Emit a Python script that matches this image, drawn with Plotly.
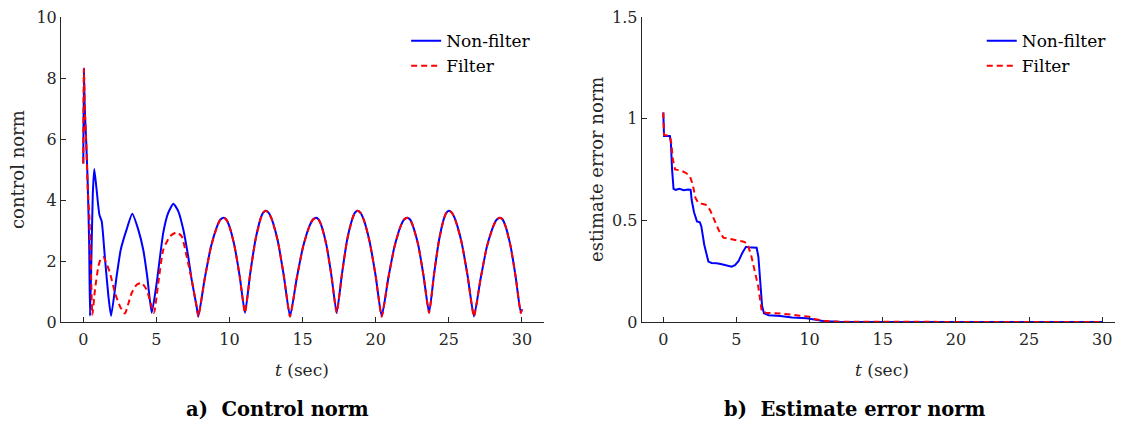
import plotly.graph_objects as go

# ---------------- data: control norm (left) ----------------
t_u_nf = [0, 0.04, 0.1, 0.2, 0.3, 0.4, 0.46, 0.55, 0.65, 0.75, 0.91, 1.1, 1.26, 1.49, 1.72, 1.9,
          2.28, 2.56, 2.96, 3.35, 3.76, 4.1, 4.37, 4.68, 5.02, 5.47, 5.8, 6.16, 6.5, 6.84, 7.19, 7.41, 7.75, 7.87,
          8.30, 8.74, 9.17, 9.38, 9.6, 9.78, 9.97, 10.33, 10.70, 11.06,
          11.41, 11.77, 12.12, 12.29, 12.47, 12.68, 12.89, 13.31, 13.72, 14.14,
          14.59, 15.04, 15.48, 15.71, 15.93, 16.10, 16.28, 16.63, 16.98, 17.33,
          17.69, 18.04, 18.40, 18.57, 18.75, 18.96, 19.17, 19.58, 20.0, 20.41,
          20.85, 21.29, 21.72, 21.94, 22.16, 22.35, 22.53, 22.91, 23.28, 23.65,
          23.99, 24.33, 24.66, 24.83, 25.0, 25.22, 25.43, 25.86, 26.29, 26.72,
          27.17, 27.61, 28.06, 28.28, 28.5, 28.68, 28.86, 29.21, 29.57, 29.92, 30.0]
u_nf = [5.2, 8.3, 7.0, 5.9, 4.6, 2.6, 0.2, 2.0, 4.2, 5.02, 4.34, 3.52, 3.3, 2.04, 0.84, 0.2,
        1.5, 2.37, 3.03, 3.55, 3.03, 2.37, 1.5, 0.3, 1.28, 2.93, 3.57, 3.88, 3.63, 3.03, 2.1, 1.39, 0.51, 0.18,
        1.41, 2.48, 3.16, 3.36, 3.42, 3.36, 3.17, 2.52, 1.49, 0.3,
        1.57, 2.68, 3.38, 3.58, 3.65, 3.58, 3.37, 2.64, 1.50, 0.18,
        1.41, 2.48, 3.16, 3.36, 3.42, 3.36, 3.17, 2.52, 1.49, 0.3,
        1.57, 2.68, 3.38, 3.58, 3.65, 3.58, 3.37, 2.64, 1.50, 0.18,
        1.41, 2.48, 3.16, 3.36, 3.42, 3.36, 3.17, 2.52, 1.49, 0.3,
        1.57, 2.68, 3.38, 3.58, 3.65, 3.58, 3.37, 2.64, 1.50, 0.18,
        1.41, 2.48, 3.16, 3.36, 3.42, 3.36, 3.17, 2.52, 1.49, 0.3, 0.42]

t_u_f = [0, 0.04, 0.1, 0.2, 0.3, 0.42, 0.52, 0.62, 0.8, 1.03, 1.2, 1.37, 1.6, 1.83, 2.17, 2.51, 2.85,
         3.08, 3.31, 3.65, 3.99, 4.33, 4.68, 4.84, 5.13, 5.47, 5.93, 6.39, 6.73, 7.07, 7.41, 7.75, 7.87,
         8.30, 8.74, 9.17, 9.38, 9.6, 9.78, 9.97, 10.33, 10.70, 11.06,
         11.41, 11.77, 12.12, 12.29, 12.47, 12.68, 12.89, 13.31, 13.72, 14.14,
         14.59, 15.04, 15.48, 15.71, 15.93, 16.10, 16.28, 16.63, 16.98, 17.33,
         17.69, 18.04, 18.40, 18.57, 18.75, 18.96, 19.17, 19.58, 20.0, 20.41,
         20.85, 21.29, 21.72, 21.94, 22.16, 22.35, 22.53, 22.91, 23.28, 23.65,
         23.99, 24.33, 24.66, 24.83, 25.0, 25.22, 25.43, 25.86, 26.29, 26.72,
         27.17, 27.61, 28.06, 28.28, 28.5, 28.68, 28.86, 29.21, 29.57, 29.92, 30.0]
u_f = [5.2, 8.3, 7.0, 5.9, 4.4, 3.4, 1.8, 0.24, 1.06, 1.82, 2.08, 2.13, 1.9, 1.6, 0.95, 0.51, 0.28,
       0.6, 0.95, 1.22, 1.28, 1.06, 0.5, 0.3, 1.28, 2.37, 2.81, 2.94, 2.81, 2.15, 1.39, 0.51, 0.18,
       1.41, 2.48, 3.16, 3.36, 3.42, 3.36, 3.17, 2.52, 1.49, 0.3,
       1.57, 2.68, 3.38, 3.58, 3.65, 3.58, 3.37, 2.64, 1.50, 0.18,
       1.41, 2.48, 3.16, 3.36, 3.42, 3.36, 3.17, 2.52, 1.49, 0.3,
       1.57, 2.68, 3.38, 3.58, 3.65, 3.58, 3.37, 2.64, 1.50, 0.18,
       1.41, 2.48, 3.16, 3.36, 3.42, 3.36, 3.17, 2.52, 1.49, 0.3,
       1.57, 2.68, 3.38, 3.58, 3.65, 3.58, 3.37, 2.64, 1.50, 0.18,
       1.41, 2.48, 3.16, 3.36, 3.42, 3.36, 3.17, 2.52, 1.49, 0.3, 0.42]

# ---------------- data: estimate error norm (right) ----------------
t_e_nf = [0, 0.05, 0.45, 0.52, 0.6, 0.7, 0.85, 1.1, 1.4, 1.7, 1.87, 1.94, 2.1, 2.3, 2.5, 2.6, 2.8,
          3.08, 3.3, 3.65, 4.0, 4.4, 4.67, 4.9, 5.15, 5.4, 5.65, 5.8, 6.1, 6.38, 6.5, 6.62, 6.75,
          6.88, 7.2, 8.0, 8.8, 9.8, 10.3, 11.0, 12.0, 30.0]
e_nf = [1.03, 0.915, 0.915, 0.88, 0.75, 0.655, 0.65, 0.655, 0.648, 0.652, 0.65, 0.6, 0.54, 0.495, 0.49, 0.47, 0.38,
        0.297, 0.29, 0.289, 0.284, 0.276, 0.272, 0.28, 0.3, 0.34, 0.37, 0.368, 0.368, 0.365, 0.32, 0.2, 0.08,
        0.043, 0.033, 0.03, 0.022, 0.018, 0.012, 0.004, 0.001, 0.0]

t_e_f = [0, 0.05, 0.45, 0.55, 0.65, 0.8, 1.2, 1.5, 1.8, 2.0, 2.2, 2.4, 2.7, 2.97, 3.2, 3.5, 3.8, 4.1,
         4.5, 5.13, 5.5, 5.74, 6.0, 6.25, 6.49, 6.73, 7.0, 8.0, 8.6, 9.5, 10.0, 10.4, 11.0, 12.0, 30.0]
e_f = [1.03, 0.92, 0.915, 0.88, 0.8, 0.75, 0.745, 0.735, 0.72, 0.68, 0.61, 0.585, 0.58, 0.575, 0.55, 0.5, 0.45, 0.415,
       0.41, 0.403, 0.395, 0.386, 0.33, 0.25, 0.174, 0.052, 0.046, 0.042, 0.036, 0.03, 0.026, 0.013, 0.006, 0.001, 0.0]

x_ticks = [0, 5, 10, 15, 20, 25, 30]
y1_ticks = [0, 2, 4, 6, 8, 10]
y2_ticks = [0, 0.5, 1, 1.5]
y2_ticklabels = ["0", "0.5", "1", "1.5"]

FONT = "DejaVu Serif"
AX = "#262626"
BLUE = "#0000FF"
RED = "#FF0000"

fig = go.Figure()
fig.add_trace(go.Scatter(x=t_u_nf, y=u_nf, mode="lines", name="Non-filter",
                         line=dict(color=BLUE, width=2, shape="spline", smoothing=0.5),
                         xaxis="x", yaxis="y", legend="legend"))
fig.add_trace(go.Scatter(x=t_u_f, y=u_f, mode="lines", name="Filter",
                         line=dict(color=RED, width=2, dash="6px,4px", shape="spline", smoothing=0.5),
                         xaxis="x", yaxis="y", legend="legend"))
fig.add_trace(go.Scatter(x=t_e_nf, y=e_nf, mode="lines", name="Non-filter",
                         line=dict(color=BLUE, width=2), xaxis="x2", yaxis="y2", legend="legend2"))
fig.add_trace(go.Scatter(x=t_e_f, y=e_f, mode="lines", name="Filter",
                         line=dict(color=RED, width=2, dash="6px,4px"), xaxis="x2", yaxis="y2", legend="legend2"))

axis_common = dict(showline=True, linecolor=AX, linewidth=1, ticks="inside", ticklen=5,
                   tickcolor=AX, tickwidth=1, showgrid=False, zeroline=False, mirror=False,
                   automargin=False, ticklabeloverflow="allow",
                   tickfont=dict(family=FONT, size=16, color=AX))

L_DOM = [0.0, 0.4548]
R_DOM = [0.5468, 1.0]

# page has an 8px body margin: compensate in the margins
fig.update_layout(
    width=1123, height=424,
    margin=dict(l=53, r=8, t=9, b=110, autoexpand=False),
    paper_bgcolor="white", plot_bgcolor="white",
    font=dict(family=FONT, color=AX),
    xaxis=dict(domain=L_DOM, range=[-1.525, 31.51], tickvals=x_ticks, anchor="y",
               ticklabelstandoff=3, **axis_common),
    yaxis=dict(domain=[0, 1], range=[0, 10], tickvals=y1_ticks, anchor="x", **axis_common),
    xaxis2=dict(domain=R_DOM, range=[-1.476, 31.42], tickvals=x_ticks, anchor="y2",
                ticklabelstandoff=3, **axis_common),
    yaxis2=dict(domain=[0, 1], range=[0, 1.5], tickvals=y2_ticks, ticktext=y2_ticklabels,
                anchor="x2", **axis_common),
    legend=dict(x=0.325, y=0.98, xanchor="left", yanchor="top", bgcolor="rgba(0,0,0,0)",
                font=dict(family=FONT, size=17, color="black"), tracegroupgap=0),
    legend2=dict(x=0.867, y=0.98, xanchor="left", yanchor="top", bgcolor="rgba(0,0,0,0)",
                 font=dict(family=FONT, size=17, color="black"), tracegroupgap=0),
    showlegend=True,
)

def px_to_paper_y(py):
    return (322 - py) / 305.0

def px_to_paper_x(px):
    return (px - 61) / 1062.0

annotations = [
    dict(text="<i>t</i> (sec)", x=sum(L_DOM) / 2, y=px_to_paper_y(370), xref="paper", yref="paper",
         showarrow=False, font=dict(family=FONT, size=17, color=AX), xanchor="center", yanchor="middle"),
    dict(text="<i>t</i> (sec)", x=sum(R_DOM) / 2, y=px_to_paper_y(370), xref="paper", yref="paper",
         showarrow=False, font=dict(family=FONT, size=17, color=AX), xanchor="center", yanchor="middle"),
    dict(text="<b>a)  Control norm</b>", x=px_to_paper_x(277), y=px_to_paper_y(409), xref="paper",
         yref="paper", showarrow=False, font=dict(family=FONT, size=19.5, color="black"),
         xanchor="center", yanchor="middle"),
    dict(text="<b>b)  Estimate error norm</b>", x=px_to_paper_x(855), y=px_to_paper_y(409), xref="paper",
         yref="paper", showarrow=False, font=dict(family=FONT, size=19.5, color="black"),
         xanchor="center", yanchor="middle"),
    dict(text="control norm", x=px_to_paper_x(17), y=px_to_paper_y(170), xref="paper", yref="paper",
         showarrow=False, textangle=-90, font=dict(family=FONT, size=18, color=AX),
         xanchor="center", yanchor="middle"),
    dict(text="estimate error norm", x=px_to_paper_x(596), y=px_to_paper_y(170), xref="paper",
         yref="paper", showarrow=False, textangle=-90, font=dict(family=FONT, size=18, color=AX),
         xanchor="center", yanchor="middle"),
]
fig.update_layout(annotations=annotations)

fig.write_html("out.html")
